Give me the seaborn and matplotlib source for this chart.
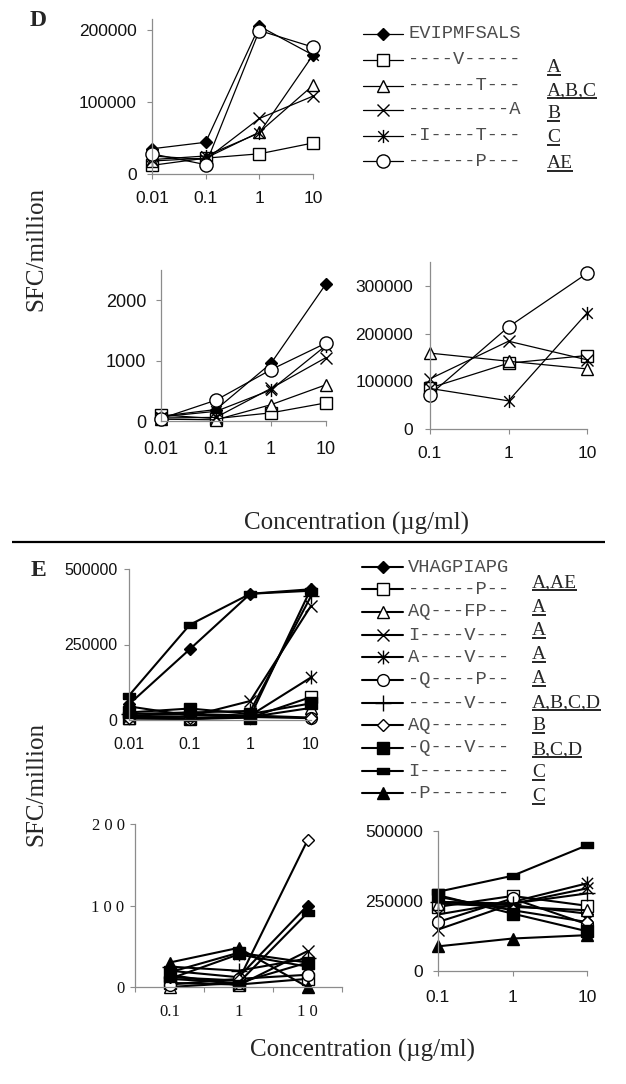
import numpy as np
import matplotlib
matplotlib.use("Agg")
import matplotlib.pyplot as plt
from matplotlib.path import Path
import seaborn as sns

# ---------------------------------------------------------------
# DATA
# ---------------------------------------------------------------
CONC_LONG = ["0.01", "0.1", "1", "10"]
CONC_SHORT = ["0.1", "1", "10"]

# Panel D
D_SEQS = ["EVIPMFSALS", "----V-----", "------T---", "---------A", "-I----T---", "------P---"]
D_TAGS = ["", "A", "A,B,C", "B", "C", "AE"]

D_TOP = [
    [35000, 44000, 205000, 165000],   # EVIPMFSALS
    [12000, 22000, 28000, 43000],     # ----V-----
    [18000, 22000, 58000, 123000],    # ------T---
    [25000, 20000, 77000, 108000],    # ---------A
    [20000, 25000, 57000, 165000],    # -I----T---
    [28000, 13000, 199000, 176000],   # ------P---
]
D_LOW_LEFT = [
    [80, 190, 955, 2270],
    [100, 40, 135, 300],
    [30, 20, 270, 600],
    [50, 60, 540, 1050],
    [70, 160, 515, 1250],
    [40, 345, 850, 1290],
]
D_LOW_RIGHT = [
    None,
    [86000, 138000, 154000],
    [159000, 142000, 126000],
    [105000, 184000, 145000],
    [85000, 59000, 243000],
    [72000, 214000, 326000],
]

# Panel E
E_SEQS = ["VHAGPIAPG", "------P--", "AQ---FP--", "I----V---", "A----V---", "-Q----P--",
          "-----V---", "AQ-------", "-Q---V---", "I--------", "-P-------"]
E_TAGS = ["", "A,AE", "A", "A", "A", "A", "A,B,C,D", "B", "B,C,D", "C", "C"]

E_TOP = [
    [52000, 234000, 418000, 433000],
    [5000, 3000, 8000, 76000],
    [8000, 5000, 10000, 40000],
    [10000, 12000, 63000, 378000],
    [15000, 20000, 15000, 141000],
    [12000, 4000, 15000, 8000],
    [20000, 25000, 30000, 410000],
    [6000, 5000, 10000, 6000],
    [25000, 38000, 20000, 55000],
    [81000, 315000, 418000, 428000],
    [45000, 15000, 12000, 435000],
]
E_LOW_LEFT = [
    [20, 12, 100],
    [5, 3, 10],
    [0, 5, 30],
    [15, 2, 44],
    [10, 40, 25],
    [3, 10, 15],
    [25, 20, 35],
    [12, 8, 180],
    [18, 42, 30],
    [10, 5, 91],
    [30, 48, 0],
]
E_LOW_RIGHT = [
    [247000, 235000, 205000],
    [229000, 268000, 233000],
    [241000, 229000, 217000],
    [148000, 240000, 295000],
    [202000, 247000, 313000],
    [175000, 259000, 167000],
    [247000, 241000, 277000],
    [265000, 217000, 175000],
    [271000, 205000, 142000],
    [283000, 340000, 449000],
    [88000, 116000, 128000],
]

# ---------------------------------------------------------------
# STYLE
# ---------------------------------------------------------------
W, H = 626, 1084
AX_GRAY = "#8c8c8c"
SANS = "Liberation Sans"
SERIF = "Liberation Serif"
MONO = "Liberation Mono"

ASTERISK = Path([(-1, -1), (1, 1), (-1, 1), (1, -1), (0, -1.25), (0, 1.25)],
                [Path.MOVETO, Path.LINETO, Path.MOVETO, Path.LINETO, Path.MOVETO, Path.LINETO])
DASH = [(-1, -0.45), (1, -0.45), (1, 0.45), (-1, 0.45), (-1, -0.45)]

# marker, size, face colour
D_MARKERS = [
    ("D", 6, "black"),
    ("s", 8.5, "white"),
    ("^", 9, "white"),
    ("x", 8.5, "none"),
    (ASTERISK, 9.5, "none"),
    ("o", 9.5, "white"),
]
E_MARKERS = [
    ("D", 6.5, "black"),
    ("s", 8, "white"),
    ("^", 8.5, "white"),
    ("x", 9, "none"),
    (ASTERISK, 10, "none"),
    ("o", 8.5, "white"),
    ("+", 11, "none"),
    ("D", 6.5, "white"),
    ("s", 8, "black"),
    (DASH, 9, "black"),
    ("^", 8.5, "black"),
]

sns.set_style("ticks")
plt.rcParams.update({"font.family": SANS, "axes.linewidth": 0.9})

fig = plt.figure(figsize=(W / 100, H / 100), dpi=100)

ov = fig.add_axes([0, 0, 1, 1], zorder=-1)
ov.set_xlim(0, W)
ov.set_ylim(H, 0)
ov.axis("off")


def px_axes(left, top, right, bottom):
    return fig.add_axes([left / W, 1 - bottom / H, (right - left) / W, (bottom - top) / H])


def draw_series(ax, series, markers, lw):
    for vals, (mk, ms, fc) in zip(series, markers):
        if vals is None:
            continue
        sns.lineplot(x=np.arange(len(vals)), y=vals, ax=ax, color="black", linewidth=lw,
                     marker=mk, markersize=ms, markerfacecolor=fc,
                     markeredgecolor="black", markeredgewidth=1.0)
    for ln in ax.lines:
        ln.set_clip_on(False)


def style_axes(ax, ylim, yticks, ylabels, xlabels, xpad, ypad,
               font=SANS, size=12, between=False):
    n = len(xlabels)
    ax.set_xlim(-0.5 if between else 0, n - 0.5 if between else n - 1)
    ax.set_ylim(*ylim)
    sns.despine(ax=ax)
    for s in ("left", "bottom"):
        ax.spines[s].set_color(AX_GRAY)
        ax.spines[s].set_linewidth(0.9)
    ax.patch.set_alpha(0)
    ax.set_yticks(yticks)
    ax.set_yticklabels(ylabels, fontfamily=font, fontsize=size, color="#111111")
    ax.set_xticks(range(n))
    ax.set_xticklabels(xlabels, fontfamily=font, fontsize=size, color="#111111")
    ax.tick_params(axis="y", left=True, length=3.5, width=0.8, color=AX_GRAY, pad=ypad)
    if between:
        ax.set_xticks(np.arange(-0.5, n), minor=True)
        ax.tick_params(axis="x", which="major", length=0, pad=xpad)
        ax.tick_params(axis="x", which="minor", bottom=True, length=3.5, width=0.8, color=AX_GRAY)
    else:
        ax.tick_params(axis="x", bottom=True, length=3.5, width=0.8, color=AX_GRAY, pad=xpad)
    ax.set_xlabel("")
    ax.set_ylabel("")


# ---------------------------------------------------------------
# PANEL D
# ---------------------------------------------------------------
ax = px_axes(152, 19, 313, 174)
draw_series(ax, D_TOP, D_MARKERS, 0.9)
style_axes(ax, (0, 215000), [0, 100000, 200000], ["0", "100000", "200000"],
           CONC_LONG, xpad=9, ypad=7.5, size=12.5)

ax = px_axes(161, 270, 326, 421)
draw_series(ax, D_LOW_LEFT, D_MARKERS, 0.9)
style_axes(ax, (0, 2500), [0, 1000, 2000], ["0", "1000", "2000"],
           CONC_LONG, xpad=11, ypad=7, size=13)

ax = px_axes(430, 262, 587, 429)
draw_series(ax, D_LOW_RIGHT, D_MARKERS, 0.9)
style_axes(ax, (0, 350000), [0, 100000, 200000, 300000],
           ["0", "100000", "200000", "300000"], CONC_SHORT, xpad=8.5, ypad=8.5,
           size=12.5)

# ---------------------------------------------------------------
# PANEL E
# ---------------------------------------------------------------
ax = px_axes(129, 569, 311, 720)
draw_series(ax, E_TOP, E_MARKERS, 1.5)
style_axes(ax, (0, 500000), [0, 250000, 500000], ["0", "250000", "500000"],
           CONC_LONG, xpad=9, ypad=5, size=11.5)

ax = px_axes(135, 824, 342, 987)
draw_series(ax, E_LOW_LEFT, E_MARKERS, 1.5)
style_axes(ax, (0, 200), [0, 100, 200], ["0", "1 0 0", "2 0 0"],
           ["0.1", "1", "1 0"], xpad=12, ypad=4, font=SERIF, size=12, between=True)

ax = px_axes(438, 831, 587, 971)
draw_series(ax, E_LOW_RIGHT, E_MARKERS, 1.5)
style_axes(ax, (0, 500000), [0, 250000, 500000], ["0", "250000", "500000"],
           CONC_SHORT, xpad=10, ypad=7, size=12.5)

# ---------------------------------------------------------------
# LABELS, LEGENDS, DIVIDER
# ---------------------------------------------------------------
ov.text(38, 21, "D", fontfamily=SERIF, fontweight="bold", fontsize=17, ha="center", va="center")
ov.text(38, 570, "E", fontfamily=SERIF, fontweight="bold", fontsize=17, ha="center", va="center")

for yc in (249, 784):
    ov.text(36, yc, "SFC/million", fontfamily=SERIF, fontsize=18, rotation=90,
            ha="center", va="center")
ov.text(357, 523, "Concentration (\u00b5g/ml)", fontfamily=SERIF, fontsize=18,
        ha="center", va="center")
ov.text(362, 1050, "Concentration (\u00b5g/ml)", fontfamily=SERIF, fontsize=18,
        ha="center", va="center")

ov.plot([12, 605], [542, 542], color="black", lw=1.6, solid_capstyle="butt")

tag_texts = []


def draw_legend(seqs, tags, markers, rows, x0, x1, tag_x, tag_base, lw):
    for seq, (mk, ms, fc), y in zip(seqs, markers, rows):
        ov.plot([x0, x1], [y, y], color="black", lw=lw)
        ov.plot([(x0 + x1) / 2], [y], color="black", marker=mk, markersize=ms,
                markerfacecolor=fc, markeredgecolor="black", markeredgewidth=1.0)
        ov.text(x1 + 5, y, seq, fontfamily=MONO, fontsize=13.5, color="#4d4d4d",
                ha="left", va="center")
    for tag, yb in zip(tags[1:], tag_base):
        tag_texts.append(ov.text(tag_x, yb, tag, fontfamily=SERIF, fontsize=14,
                                 ha="left", va="baseline"))


draw_legend(D_SEQS, D_TAGS, D_MARKERS, [34, 60, 86, 110, 136, 161],
            363, 403, 547, [72, 95, 118, 142, 168], 0.9)
draw_legend(E_SEQS, E_TAGS, E_MARKERS,
            [567, 589, 612, 635, 657, 680, 703, 725, 748, 771, 793],
            362, 403, 532, [587, 612, 635, 659, 683, 707, 730, 754, 777, 801], 1.5)

fig.canvas.draw()
renderer = fig.canvas.get_renderer()
for t in tag_texts:
    bb = t.get_window_extent(renderer)
    y = t.get_position()[1] + 3
    ov.plot([bb.x0, bb.x1], [y, y], color="black", lw=1.2, solid_capstyle="butt")

fig.savefig("out.png", dpi=100)
plt.close(fig)
